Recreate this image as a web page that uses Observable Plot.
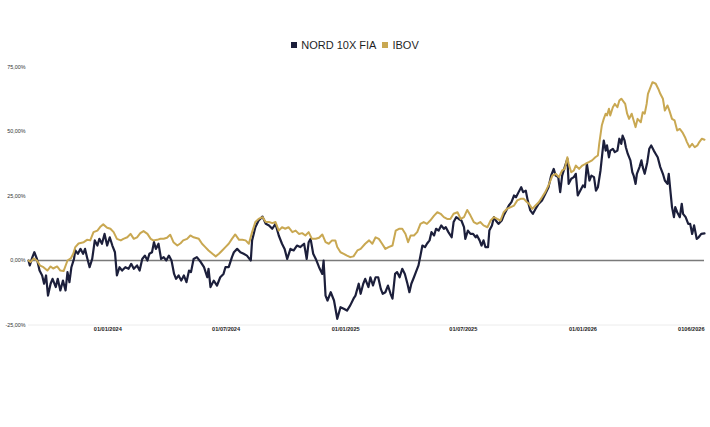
<!DOCTYPE html>
<html><head><meta charset="utf-8">
<script src="https://cdn.jsdelivr.net/npm/d3@7"></script>
<script src="https://cdn.jsdelivr.net/npm/@observablehq/plot@0.6"></script>
<style>
body{margin:0;background:#fff;font-family:"Liberation Sans",Arial,sans-serif;}
#wrap{width:710px;height:427px;position:relative;overflow:hidden;background:#fff}
#legend{position:absolute;top:38px;left:0;width:710px;text-align:center;font-size:11px;line-height:14px;color:#1f1f1f;white-space:nowrap}
.sw{display:inline-block;width:6px;height:6px;margin-right:4px;vertical-align:middle;position:relative;top:-1px}
.item{margin:0 3px}
#chart{position:absolute;top:52px;left:0}
</style></head>
<body><div id="wrap"><div id="legend"></div><div id="chart"></div></div>
<script>
// Series names and colours
const seriesNames = ["NORD 10X FIA", "IBOV"];
const seriesColors = ["#1c1f3b", "#c9a852"];

// Day offsets from 2023-09-01 and cumulative return (%)
const nordDays = [0,2,6,9,13,17,21,24,27,30,34,37,42,45,49,53,57,60,63,66,70,72,76,80,84,87,90,94,98,102,106,109,113,117,121,125,129,133,136,140,144,149,154,158,162,167,171,175,179,183,186,190,193,196,200,204,208,212,216,220,224,227,231,235,239,243,247,250,254,259,
265,270,275,277,280,285,290,295,300,303,308,313,316,321,326,331,336,342,344,349,354,360,365,370,375,380,385,390,394,398,403,408,413,418,424,428,431,434,438,442,447,452,454,457,460,465,470,475,480,485,490,495,500,
503,508,511,515,518,523,526,530,534,538,542,545,549,553,557,560,564,567,571,575,579,583,586,589,593,596,600,603,606,610,613,617,620,624,627,631,635,639,642,646,651,654,658,662,666,670,672,676,680,684,688,690,694,697,700,703,707,709,713,716,719,723,728,731,735,739,743,747,750,754,758,761,765,768,772,776,780,785,790,795,800,804,808,811,815,818,821,825,829,831,835,839,842,845,849,853,856,859,863,866,870,873,876,880,883,885,888,890,893,895,899,902,906,909,912,914,917,919,922,926,929,931,934,936,940,943,945,948,952,955,958,962,965,968,972,976,979,983,985,988,990,993,995,998,1002,1005,1007,1011,1015,1018,1021,1024,1028,1031,1035,1040];
const nordValues = [0,-1.9,1.3,3.2,0.6,-3.9,-5.8,-9,-5.8,-13.6,-9,-7.1,-10.3,-7.1,-11.6,-7.8,-11.6,-4.5,-8.4,-2.6,0.6,3.9,2.6,4.5,2.6,4.5,1.3,-2.6,0.6,7.8,5.8,8.4,6.5,10.3,5.8,9,5.8,3.2,-5.8,-2.6,-3.9,-2.6,-3.2,-1.3,-3.2,-1.9,-3.9,0.6,1.9,0,2.6,3.2,7.1,4.5,6.5,0.6,1.3,0,1.9,0,-5.2,-7.1,-5.8,-7.8,-5.8,-8.4,-3.9,-4.5,0.6,1.3,
-0.6,-2.6,-6.5,-3.2,-10.3,-7.8,-9.7,-6.5,-5.2,-2.6,-2.6,1.3,3.2,4.5,3.2,2.6,1.9,0,7.8,12.9,15.5,17,14.2,13.6,12.3,14.2,9.7,6.5,4.5,0.6,4.5,3.9,5.8,5.2,6.5,0.6,7.1,8.4,2.6,0.6,-2.6,-5.2,0,-13.6,-15.5,-12.3,-15.5,-22.6,-18.1,-18.7,-19.4,-17.4,-14.8,
-13.6,-9,-12.9,-9,-7.1,-10.3,-6.5,-9.7,-6.5,-6.5,-11,-12.9,-12.3,-9.7,-12.9,-14.8,-5.2,-4.5,-6.5,-3.2,-5.2,-9,-12.3,-9,-6.5,-4.5,-1.9,1.9,5.8,5.2,6.5,7.8,11,9.7,12.3,11.6,13.6,12.3,12.9,11,9,14.9,16.8,16.1,15.5,12.9,8.4,11.6,10.3,10.3,9,9.7,7.8,5.8,7.8,5.2,5.2,11.6,13.6,16.8,15.5,14.2,15.5,17.4,19.4,21.3,22.6,25.2,24.5,26.5,28.4,26.5,27.1,23.3,19.4,18.1,20,22,23.3,25.8,28.4,32.9,35.5,32.9,32.3,26.5,32.9,36.2,39.4,29.7,31.7,32.3,33.6,25.2,27.1,29.1,28.4,37.5,31,32.9,32.3,27.1,28.4,34.9,42,46.5,42.6,44.6,40,42.6,43.3,42,42.6,47.2,45.2,48.4,46.5,43.9,41.3,38.8,34.2,32.9,29.7,33.6,36.2,38.8,36.2,33.6,38.1,43.3,44.6,42.6,41.3,40,36.2,33.6,31,29.7,33.6,25.8,20.7,16.8,20.7,18.7,16.8,22,18.1,16.8,14.2,14.2,10.3,13.6,8.4,9,10.3,10.5];

const ibovDays = [0,3,8,13,18,23,29,34,38,44,49,54,60,65,69,72,77,85,90,95,100,106,111,115,121,126,131,136,142,146,152,157,162,167,172,177,183,188,192,198,203,208,213,218,223,229,234,238,244,249,254,
262,267,272,277,283,288,293,298,303,308,313,318,324,329,334,339,344,349,354,360,365,370,375,380,385,390,395,400,406,411,416,421,426,431,436,442,447,452,457,462,467,472,475,480,485,490,495,500,506,511,
518,524,529,534,539,544,549,554,560,565,570,575,580,584,588,593,598,603,608,613,618,624,629,634,639,644,649,654,660,665,670,675,680,685,690,695,700,706,711,716,721,726,731,736,742,747,752,757,762,767,770,775,780,785,790,795,800,806,811,816,821,825,829,831,835,839,842,847,852,857,862,867,872,876,878,882,885,888,890,893,895,899,902,906,909,912,916,918,921,924,928,931,934,937,942,945,948,951,953,957,960,965,969,972,976,979,983,986,990,994,998,1002,1006,1010,1013,1017,1021,1025,1029,1032,1036,1040];
const ibovValues = [0,-0.6,0.8,0,-2,-2.6,-3.9,-2.3,-3.1,-2.3,-3.9,-4.1,0,0.8,2.7,5.2,6.6,7.1,8,7.8,11,11.6,13.2,14,12.7,12.3,11,8.4,7.8,8.4,9,10.3,8.4,9,10.6,11.4,10.3,8.4,7.8,8,8.4,8.4,8.8,10,7.1,5.8,6.7,7.8,8.4,9.7,9,
8.4,6.5,5.2,3.9,2.6,1.6,2.6,3.9,5.2,6.5,8.4,10.1,8,8,7.8,6.5,11,14.9,16.1,16.8,14.9,14.9,14.5,14.9,11.6,12.9,12.3,12.9,11,11.6,10.3,10.6,9.7,11,8.4,8.4,8.8,10.1,7.1,6.5,7.8,7.8,5.2,3.2,2.6,1.9,1.3,1.6,3.9,4.5,
6.5,7.8,6.5,9,8.4,6.5,4.5,5.2,5.8,11.6,12.3,12.3,10.3,7.1,9.7,9.7,11,14.2,14.9,14.2,15.5,17.4,18.7,18.1,16.8,16.1,16.1,18.1,18.7,16.1,16.8,19.6,17.4,14.9,14.2,14.9,13.6,12.9,15.5,16.8,16.1,15.5,18.7,20,20.7,21.3,23.3,23.9,23.9,22.6,22,20,21.3,22.6,24.5,26.5,29.1,32.9,33.6,32.3,34.9,35.5,40,37.5,34.2,34.9,36.8,35.5,36.8,37.5,38.1,38.8,40,40.7,45.2,52.3,54.9,56.9,56.2,58.8,56.2,59.4,60.7,59.4,62,62.7,61.4,60.7,56.9,54.9,56.9,54.3,51.7,54.9,53.6,57.5,56.9,60.7,64.6,67.2,69.1,68.5,66.5,64.6,62.7,58.1,60.1,58.1,54.9,54.3,50.4,51,49.7,47.8,45.9,43.9,45.2,43.9,44.6,45.9,47.2,46.8];

// Axis ticks
const startDate = "2023-09-01";
const lastDay = 1040;
const xTickDates = ["2024-01-01","2024-07-01","2025-01-01","2025-07-01","2026-01-01"];
const xTickLabels = ["01/01/2024","01/07/2024","01/01/2025","01/07/2025","01/01/2026"];
const lastTickLabel = "0106/2026";
const yTicks = [-25, 0, 25, 50, 75];

// ---- build ----
const t0 = new Date(startDate).getTime();
const toDate = n => new Date(t0 + n * 864e5);
const nord = nordDays.map((d, i) => ({date: toDate(d), value: nordValues[i]}));
const ibov = ibovDays.map((d, i) => ({date: toDate(d), value: ibovValues[i]}));
const tickDates = xTickDates.map(s => new Date(s));
const labelMap = new Map(tickDates.map((d, i) => [+d, xTickLabels[i]]));
const fmtY = v => v.toFixed(2).replace(".", ",") + "%";

// legend
const legend = document.getElementById("legend");
legend.innerHTML = seriesNames.map((n, i) =>
  `<span class="item"><span class="sw" style="background:${seriesColors[i]}"></span>${n}</span>`).join("");

const chart = Plot.plot({
  width: 710,
  height: 375,
  marginLeft: 28,
  marginRight: 6,
  marginTop: 14.5,
  marginBottom: 102.5,
  x: {type: "utc", domain: [toDate(0), toDate(lastDay)], label: null},
  y: {domain: [-25, 75], label: null},
  style: {fontFamily: "'Liberation Sans', Arial, sans-serif", background: "#fff", overflow: "visible"},
  marks: [
    Plot.ruleY([-25], {stroke: "#ececec", strokeWidth: 1}),
    Plot.axisY({ticks: yTicks, tickSize: 0, tickPadding: 3, fontSize: 5.4, tickFormat: fmtY, fill: "#333", label: null}),
    Plot.axisX({ticks: tickDates, tickSize: 0, tickPadding: 2.5, fontSize: 5.6, fontWeight: "bold", fill: "#222",
      tickFormat: d => labelMap.get(+d), label: null}),
    Plot.text([{date: toDate(lastDay), label: lastTickLabel}], {x: "date", text: "label", frameAnchor: "bottom",
      lineAnchor: "top", textAnchor: "end", dy: 2.5, fontSize: 5.6, fontWeight: "bold", fill: "#222"}),
    Plot.ruleY([0], {stroke: "#7a7a7a", strokeWidth: 1.6}),
    Plot.line(nord, {x: "date", y: "value", stroke: seriesColors[0], strokeWidth: 2.2}),
    Plot.line(ibov, {x: "date", y: "value", stroke: seriesColors[1], strokeWidth: 2})
  ]
});
document.getElementById("chart").appendChild(chart);
</script>
</body></html>
